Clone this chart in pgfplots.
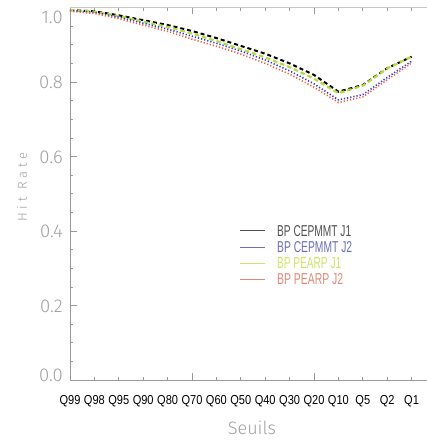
\documentclass[border=0pt]{standalone}
\usepackage{fontspec}
\setmainfont{Liberation Sans}
\newfontfamily\lightfont{Fira Sans}[UprightFont={* Light}]
\usepackage{graphicx}
\usepackage{pgfplots}
\usepackage{pgfplotstable}
\pgfplotsset{compat=1.18}
\definecolor{axgray}{HTML}{9A9A9A}
\definecolor{topgray}{HTML}{C8C8C8}
\definecolor{lblgray}{HTML}{A0A0A0}
\definecolor{cgreen}{HTML}{B4DC3C}
\definecolor{cblue}{HTML}{2A3CE0}
\definecolor{cred}{HTML}{F0603C}
\definecolor{lgJa}{HTML}{505050}
\definecolor{lgJb}{HTML}{6E6EB8}
\definecolor{lgPa}{HTML}{CCE468}
\definecolor{lgPb}{HTML}{E08878}
\pgfplotstableread{
x black green blue red
0 0.993 0.993 0.992 0.990
1 0.990 0.989 0.987 0.984
2 0.979 0.977 0.974 0.970
3 0.966 0.962 0.958 0.953
4 0.953 0.948 0.942 0.936
5 0.937 0.930 0.923 0.915
6 0.918 0.910 0.904 0.896
7 0.897 0.888 0.883 0.875
8 0.876 0.866 0.859 0.850
9 0.850 0.840 0.830 0.821
10 0.819 0.809 0.795 0.786
11 0.774 0.770 0.752 0.745
12 0.792 0.790 0.766 0.760
13 0.837 0.836 0.812 0.806
14 0.868 0.868 0.856 0.851
}\datatable
\newcommand{\yl}[2]{\raisebox{#1}[0pt][0pt]{\fontsize{18.5}{18}\lightfont\color{lblgray}#2}}
\newcommand{\xl}[1]{\scalebox{0.85}[1]{#1}}
\newcommand{\legrow}[4]{%
  \draw[#1, line width=0.8pt] (axis description cs:0.4645,#2) -- (axis description cs:0.5328,#2);
  \node[anchor=west, inner sep=0pt, text=#1] at (axis description cs:0.5656,#2) {\resizebox{#3}{11pt}{#4}};}
\begin{document}
\begin{tikzpicture}
\begin{axis}[
  scale only axis, width=366pt, height=372.5pt,
  xmin=0, xmax=15, ymin=0, ymax=1,
  axis line style={draw=axgray, line width=0.6pt},
  tick style={draw=axgray, line width=0.6pt},
  tick align=inside,
  major tick length=7pt, minor tick length=3.5pt,
  xtick={0,5,10}, xticklabels={},
  minor xtick={1,2,3,4,6,7,8,9,11,12,13,14},
  extra x ticks={0,1,...,14},
  extra x tick labels={\xl{Q99},\xl{Q98},\xl{Q95},\xl{Q90},\xl{Q80},\xl{Q70},\xl{Q60},\xl{Q50},\xl{Q40},\xl{Q30},\xl{Q20},\xl{Q10},\xl{Q5},\xl{Q2},\xl{Q1}},
  extra x tick style={major tick length=0pt,
     xticklabel style={font=\fontsize{13}{13}\selectfont, text=black, yshift=-12pt}},
  ytick={0,0.2,0.4,0.6,0.8,1.0},
  yticklabels={\yl{-1.5pt}{0.0},\yl{-6.8pt}{0.2},\yl{-6.8pt}{0.4},\yl{-6.8pt}{0.6},\yl{-6.8pt}{0.8},\yl{-16pt}{1.0}},
  yticklabel style={inner sep=0pt, xshift=-7pt},
  minor y tick num=3,
  ytick pos=left,
  clip=false,
]
\addplot[black, line width=2pt, dash pattern=on 4pt off 3pt] table[x=x,y=black] {\datatable};
\addplot[cgreen, line width=2.2pt, dash pattern=on 4.5pt off 3pt] table[x=x,y=green] {\datatable};
\addplot[cblue, line width=1.6pt, dash pattern=on 1.2pt off 2pt] table[x=x,y=blue] {\datatable};
\addplot[cred, line width=1.6pt, dash pattern=on 1.2pt off 2pt] table[x=x,y=red] {\datatable};
\legrow{lgJa}{0.4008}{74pt}{BP CEPMMT J1}
\legrow{lgJb}{0.3562}{75pt}{BP CEPMMT J2}
\legrow{lgPa}{0.3133}{64pt}{BP PEARP J1}
\legrow{lgPb}{0.2703}{66pt}{BP PEARP J2}
\draw[topgray, line width=1.6pt] (rel axis cs:0,1) -- (rel axis cs:1,1);
\coordinate (ll) at (rel axis cs:0,0);
\end{axis}
\node[rotate=90, text=lblgray, font=\fontsize{13}{13}\lightfont\addfontfeature{LetterSpace=30}] at ([shift={(-48pt,193pt)}]ll) {Hit Rate};
\node[text=lblgray, font=\fontsize{18}{18}\lightfont] at ([shift={(182pt,-47.7pt)}]ll) {Seuils};
\pgfresetboundingbox
\useasboundingbox ([shift={(-70pt,-60pt)}]ll) rectangle ([shift={(357pt,380pt)}]ll);
\end{tikzpicture}
\end{document}
